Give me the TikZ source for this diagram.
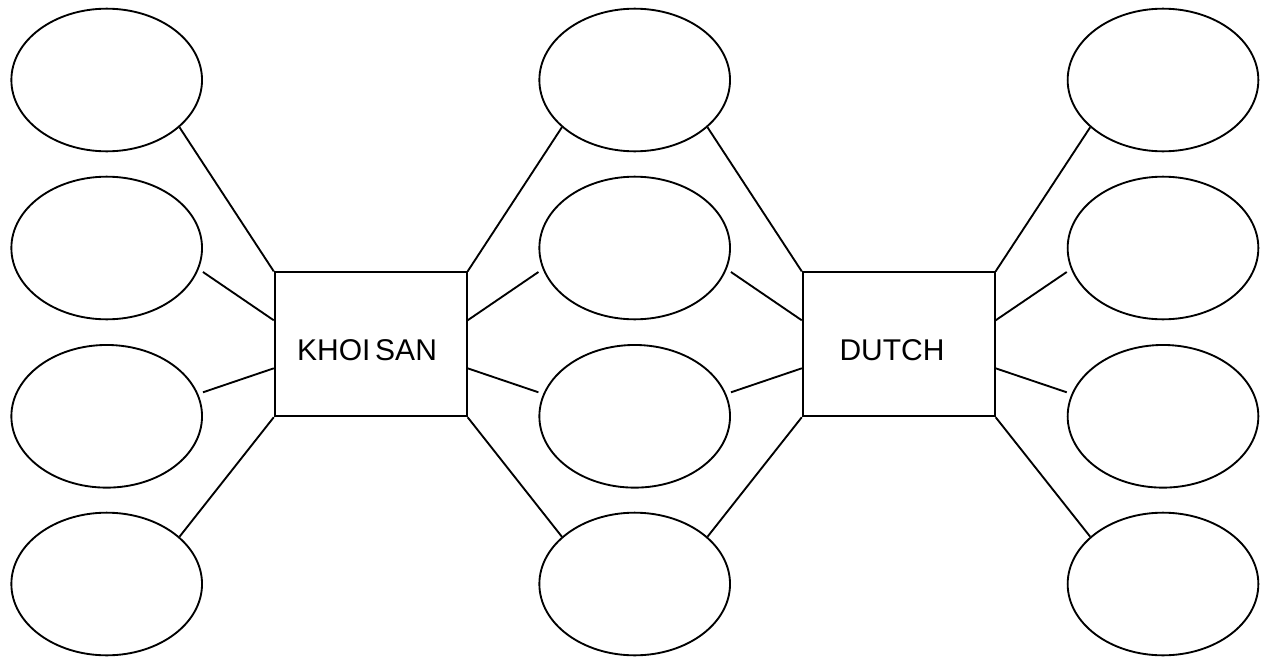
\documentclass[tikz,border=0pt]{standalone}
\usepackage{fontspec}
\setmainfont{Liberation Sans}
\usetikzlibrary{shapes.geometric,calc}
\tikzset{
  bubble/.style={draw, ellipse, line width=1.4pt, minimum width=143pt, minimum height=107pt, inner sep=0pt},
  groupbox/.style={draw, rectangle, line width=1.4pt, minimum width=144pt, minimum height=108pt, inner sep=0pt},
  grouplabel/.style={inner sep=0pt, font=\fontsize{22.5}{27}\selectfont},
  link/.style={line width=1.4pt}
}
\begin{document}
\begin{tikzpicture}[x=0.75pt, y=-0.75pt]
  \useasboundingbox (0,0) rectangle (1264,657);

  % central boxes
  \node[groupbox] (k) at (370.7,344.3) {};
  \node[groupbox] (d) at (898.7,344.3) {};
  \node[grouplabel] (klabel) at ($(k.center)+(-3.7,6)$) {KHOI\hspace{0.16em}SAN};
  \node[grouplabel] (dlabel) at ($(d.center)+(-6.7,6)$) {DUTCH};

  % ellipses: left, middle and right columns
  \foreach \name/\x in {l/106.7, m/634.7, r/1163} {
    \node[bubble] (\name1) at (\x,80) {};
    \node[bubble] (\name2) at (\x,248) {};
    \node[bubble] (\name3) at (\x,416.3) {};
    \node[bubble] (\name4) at (\x,584) {};
  }

  % left column to KHOI SAN
  \draw[link] (l1.-33) -- (k.north west);
  \draw[link] ($(l2.east)+(0,24)$) -- ($(k.west)+(0,-24)$);
  \draw[link] ($(l3.east)+(0,-24)$) -- ($(k.west)+(0,24)$);
  \draw[link] (l4.33) -- (k.south west);

  % middle column to both boxes
  \draw[link] (m1.-147) -- (k.north east);
  \draw[link] (m1.-33) -- (d.north west);
  \draw[link] ($(m2.west)+(0,24)$) -- ($(k.east)+(0,-24)$);
  \draw[link] ($(m2.east)+(0,24)$) -- ($(d.west)+(0,-24)$);
  \draw[link] ($(m3.west)+(0,-24)$) -- ($(k.east)+(0,24)$);
  \draw[link] ($(m3.east)+(0,-24)$) -- ($(d.west)+(0,24)$);
  \draw[link] (m4.147) -- (k.south east);
  \draw[link] (m4.33) -- (d.south west);

  % right column to DUTCH
  \draw[link] (r1.-147) -- (d.north east);
  \draw[link] ($(r2.west)+(0,24)$) -- ($(d.east)+(0,-24)$);
  \draw[link] ($(r3.west)+(0,-24)$) -- ($(d.east)+(0,24)$);
  \draw[link] (r4.147) -- (d.south east);
\end{tikzpicture}
\end{document}
